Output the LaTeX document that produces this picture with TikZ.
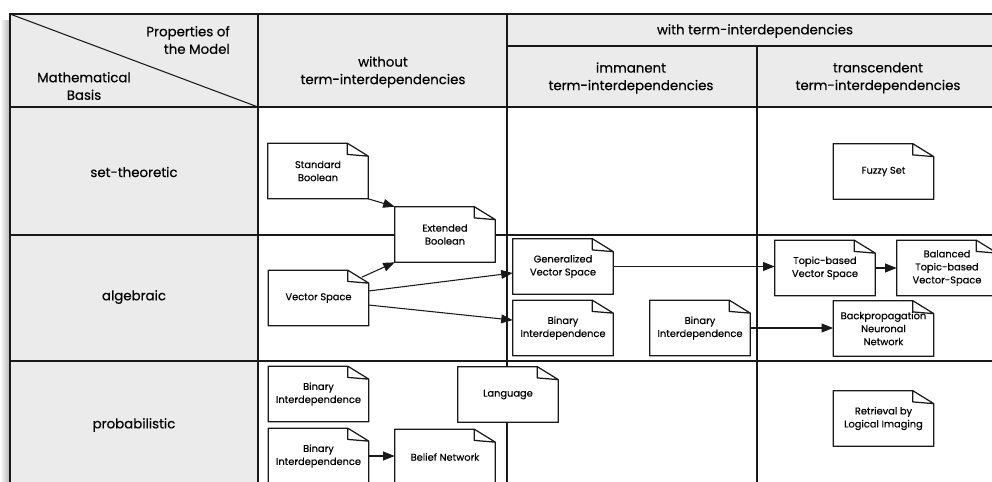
\documentclass[tikz,border=0pt]{standalone}
\usepackage{fontspec}
\setmainfont{Poppins}[FakeBold=0.35]
\usetikzlibrary{arrows.meta}
\definecolor{cellgray}{RGB}{235,235,235}
\definecolor{rule}{RGB}{25,25,25}

\begin{document}
\begin{tikzpicture}[x=0.02cm,y=-0.02cm,
    doc/.style={fill=white,minimum width=2cm,minimum height=1.1cm,inner sep=1pt,align=center,font=\fontsize{5.6}{7.4}\selectfont},
    head/.style={align=center,font=\fontsize{7.6}{10}\selectfont},
    rowlabel/.style={font=\fontsize{7.6}{10}\selectfont},
    arr/.style={-{Triangle[length=6.5pt,width=5pt]},line width=0.6pt,rule}]
    \clip (0,0) rectangle (992,481);
    % table
    \shade[left color=white,right color=black!30] (0,20) rectangle (10,481);
    \fill[cellgray] (10,14) rectangle (1000,107);
    \fill[cellgray] (10,107) rectangle (258,490);
    \draw[rule,line width=0.6pt] (1000,14) -- (10,14) -- (10,490);
    \draw[rule,line width=0.6pt] (10,107) -- (1000,107);
    \draw[rule,line width=0.6pt] (10,235) -- (1000,235);
    \draw[rule,line width=0.6pt] (10,361) -- (1000,361);
    \draw[rule,line width=0.6pt] (507,46) -- (1000,46);
    \draw[rule,line width=0.6pt] (258,14) -- (258,490);
    \draw[rule,line width=0.6pt] (507,14) -- (507,490);
    \draw[rule,line width=0.6pt] (757,46) -- (757,490);
    \draw[rule,line width=0.6pt] (10,14) -- (258,107);
    % header
    \node[head,anchor=east,align=right] (props) at (236,40) {Properties of\\the Model};
    \node[head] (basis) at (84,86) {Mathematical\\Basis};
    \node[head] (without) at (383,72) {without\\term-interdependencies};
    \node[head] (with) at (755,31) {with term-interdependencies};
    \node[head] (imm) at (631,78) {immanent\\term-interdependencies};
    \node[head] (trans) at (878,78) {transcendent\\term-interdependencies};
    \node[rowlabel] (settheo) at (134,172) {set-theoretic};
    \node[rowlabel] (alg) at (134,297) {algebraic};
    \node[rowlabel] (prob) at (134,425) {probabilistic};
    % models
    \node[doc] (stdbool) at (318,171) {Standard\\Boolean};
    \node[doc] (extbool) at (445,234.5) {Extended\\Boolean};
    \node[doc] (fuzzy) at (883.5,171.5) {Fuzzy Set};
    \node[doc] (vecspace) at (318.5,298) {Vector Space};
    \node[doc] (genvs) at (563,266.5) {Generalized\\Vector Space};
    \node[doc] (binimm) at (563,328) {Binary\\Interdependence};
    \node[doc] (binimmb) at (700,328) {Binary\\Interdependence};
    \node[doc] (topicvs) at (825,268) {Topic-based\\Vector Space};
    \node[doc] (baltopic) at (947,268) {Balanced\\Topic-based\\Vector-Space};
    \node[doc] (backprop) at (883.5,328.5) {Backpropagation\\Neuronal\\Network};
    \node[doc] (binprob) at (318.5,394) {Binary\\Interdependence};
    \node[doc] (binprobb) at (318.5,456) {Binary\\Interdependence};
    \node[doc] (belief) at (445,457) {Belief Network};
    \node[doc] (language) at (508,394.5) {Language};
    \node[doc] (retrieval) at (883.5,418.5) {Retrieval by\\Logical Imaging};
    % folded corners
    \foreach \n in {stdbool,extbool,fuzzy,vecspace,genvs,binimm,binimmb,topicvs,baltopic,backprop,binprob,binprobb,belief,language,retrieval}
        \draw[rule,line width=0.7pt,line join=round] (\n.north west) -- ([xshift=-12pt]\n.north east) -- ([yshift=-7.4pt]\n.north east) -- (\n.south east) -- (\n.south west) -- cycle
            ([xshift=-12pt]\n.north east) -- ++(0,-6.4pt) -- ([yshift=-7.4pt]\n.north east);
    % connections
    \draw[arr] (stdbool.south east) -- (extbool.north west);
    \draw[arr] ([shift={(-4pt,-4pt)}]vecspace.north east) -- (extbool.south west);
    \draw[arr] ([yshift=4pt]vecspace.east) -- ([yshift=-3.7pt]genvs.west);
    \draw[arr] ([yshift=-4pt]vecspace.east) -- ([yshift=4.5pt]binimm.west);
    \draw[arr] (genvs.east) -- (genvs.east -| topicvs.west);
    \draw[arr] (topicvs.east) -- (baltopic.west);
    \draw[arr] (binimmb.east) -- (binimmb.east -| backprop.west);
    \draw[arr] (binprobb.east) -- (binprobb.east -| belief.west);
\end{tikzpicture}
\end{document}
